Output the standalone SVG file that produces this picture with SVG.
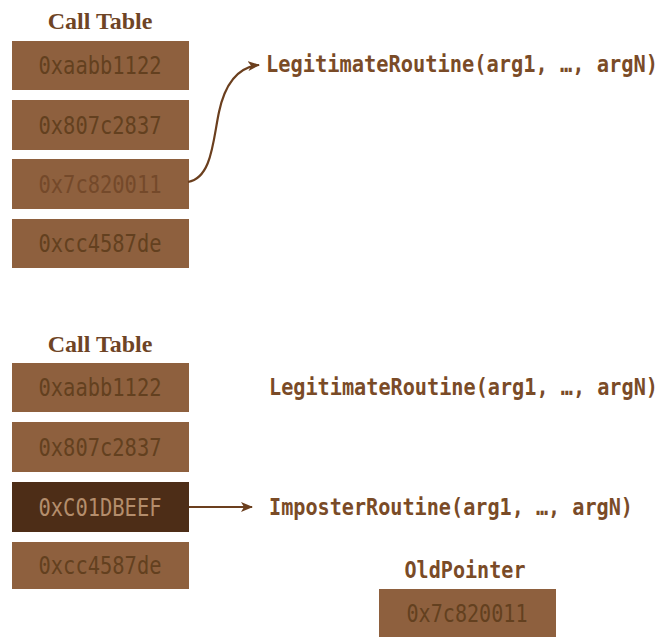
<svg xmlns="http://www.w3.org/2000/svg" width="662" height="637" viewBox="0 0 662 637">
<style>
.title{font-family:"Liberation Serif","Times New Roman",serif;font-weight:bold;font-size:24px;fill:#6e4425;text-anchor:middle}
.box{fill:#8e603e}
.dark{fill:#4d2d17}
.val{font-family:"DejaVu Sans Mono","Liberation Mono",monospace;font-size:20px;fill:#63401f;text-anchor:middle}
.valdark{font-family:"DejaVu Sans Mono","Liberation Mono",monospace;font-size:20px;fill:#b48d6c;text-anchor:middle}
.rt{font-family:"DejaVu Sans Mono","Liberation Mono",monospace;font-size:20px;font-weight:bold;fill:#7a4b27}
.conn{fill:none;stroke:#6b3f1e;stroke-width:2.2}
</style>
<defs>
<marker id="ah" markerWidth="12" markerHeight="10" refX="11" refY="5" orient="auto" markerUnits="userSpaceOnUse">
<path d="M0,0 L12,5 L0,10 L3,5 Z" fill="#6b3f1e"/>
</marker>
</defs>
<rect width="662" height="637" fill="#ffffff"/>

<g id="top-table">
<text class="title" x="100" y="29">Call Table</text>
<g id="t1"><rect class="box" x="12" y="41" width="177" height="49"/><text class="val" transform="translate(100,74) scale(1,1.2)" textLength="123" lengthAdjust="spacingAndGlyphs">0xaabb1122</text></g>
<g id="t2"><rect class="box" x="12" y="100" width="177" height="50"/><text class="val" transform="translate(100,133.5) scale(1,1.2)" textLength="123" lengthAdjust="spacingAndGlyphs">0x807c2837</text></g>
<g id="t3"><rect class="box" x="12" y="159" width="177" height="50"/><text class="val" transform="translate(100,193) scale(1,1.2)" textLength="123" lengthAdjust="spacingAndGlyphs" style="fill:#74492a">0x7c820011</text></g>
<g id="t4"><rect class="box" x="12" y="219" width="177" height="49"/><text class="val" transform="translate(100,252) scale(1,1.2)" textLength="123" lengthAdjust="spacingAndGlyphs">0xcc4587de</text></g>
</g>
<g id="top-legit"><text class="rt" transform="translate(266,72) scale(1,1.15)" textLength="392" lengthAdjust="spacingAndGlyphs">LegitimateRoutine(arg1, …, argN)</text></g>

<g id="bottom-table">
<text class="title" x="100" y="352">Call Table</text>
<g id="b1"><rect class="box" x="12" y="363" width="177" height="49"/><text class="val" transform="translate(100,396) scale(1,1.2)" textLength="123" lengthAdjust="spacingAndGlyphs">0xaabb1122</text></g>
<g id="b2"><rect class="box" x="12" y="422" width="177" height="50"/><text class="val" transform="translate(100,455.5) scale(1,1.2)" textLength="123" lengthAdjust="spacingAndGlyphs">0x807c2837</text></g>
<g id="b3"><rect class="dark" x="12" y="482" width="177" height="50"/><text class="valdark" transform="translate(100,515.5) scale(1,1.2)" textLength="123" lengthAdjust="spacingAndGlyphs">0xC01DBEEF</text></g>
<g id="b4"><rect class="box" x="12" y="542" width="177" height="47"/><text class="val" transform="translate(100,574) scale(1,1.2)" textLength="123" lengthAdjust="spacingAndGlyphs">0xcc4587de</text></g>
</g>
<g id="bottom-legit"><text class="rt" transform="translate(269,395) scale(1,1.15)" textLength="389" lengthAdjust="spacingAndGlyphs">LegitimateRoutine(arg1, …, argN)</text></g>
<g id="imposter"><text class="rt" transform="translate(269,515) scale(1,1.15)" textLength="364" lengthAdjust="spacingAndGlyphs">ImposterRoutine(arg1, …, argN)</text></g>
<g id="oldpointer">
<text class="rt" transform="translate(465,578) scale(1,1.15)" text-anchor="middle" textLength="121" lengthAdjust="spacingAndGlyphs">OldPointer</text>
<rect class="box" x="379" y="589" width="177" height="50"/>
<text class="val" transform="translate(467,622) scale(1,1.2)" textLength="121" lengthAdjust="spacingAndGlyphs">0x7c820011</text>
</g>

<g id="connectors">
<path class="conn" d="M188,182 C212,178 213,140 219,112 C225,84 238,67 259,65" marker-end="url(#ah)"/>
<path class="conn" d="M189,507 L252,507" marker-end="url(#ah)"/>
</g>
</svg>
